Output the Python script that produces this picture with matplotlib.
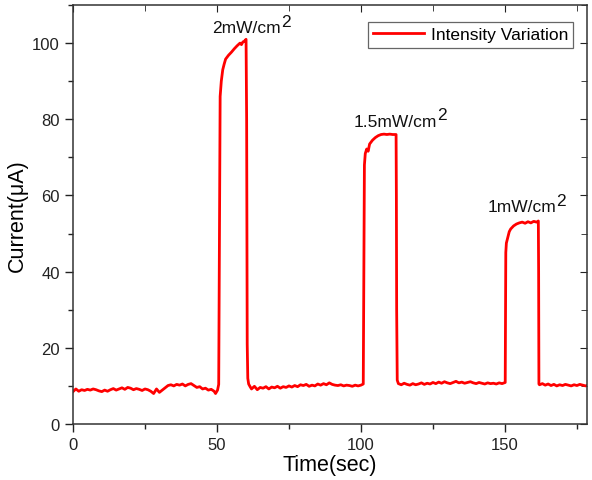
import matplotlib
matplotlib.use("Agg")
import matplotlib.pyplot as plt
from matplotlib.ticker import MultipleLocator
from matplotlib.offsetbox import TextArea, HPacker, VPacker, DrawingArea, AnnotationBbox

plt.rcParams['font.family'] = ['Liberation Sans', 'DejaVu Sans']

# values
time_sec = [
    0, 1, 2, 3, 4, 5, 6, 7, 8, 9, 10, 11, 12, 13, 14, 15, 16, 17, 18, 19,
    20, 21, 22, 23, 24, 25, 26, 27, 28, 29, 30, 31, 32, 33, 34, 35, 36, 37, 38, 39,
    40, 41, 42, 43, 44, 45, 46, 47, 48, 49, 49.5, 50.2, 50.6,
    50.8, 50.9, 51.1, 51.5, 52, 52.5, 53, 54, 55, 56, 57, 58, 58.5, 59, 59.5, 60.1,
    60.3, 60.4, 60.5, 60.7, 61, 61.5, 62, 63, 64, 65, 66, 67, 68, 69,
    70, 71, 72, 73, 74, 75, 76, 77, 78, 79, 80, 81, 82, 83, 84, 85, 86, 87, 88, 89,
    90, 91, 92, 93, 94, 95, 96, 97, 98, 99, 100, 100.8,
    101, 101.2, 101.5, 102, 102.5, 103, 104, 105, 106, 107, 108, 109, 110, 111, 112.2,
    112.3, 112.4, 112.6, 113, 114, 115, 116, 117, 118, 119,
    120, 121, 122, 123, 124, 125, 126, 127, 128, 129, 130, 131, 132, 133, 134, 135,
    136, 137, 138, 139, 140, 141, 142, 143, 144, 145, 146, 147, 148, 149, 150.1,
    150.3, 150.5, 151, 151.5, 152, 153, 154, 155, 156, 157, 158, 159, 160, 161, 161.6,
    161.7, 161.8, 162, 163, 164, 165, 166, 167, 168, 169, 170, 171, 172, 173, 174, 175,
    176, 177, 178, 179,
]
current_uA = [
    8.5, 9.2, 8.6, 9.0, 8.8, 9.1, 8.9, 9.2, 9.0, 8.7, 8.5, 8.9, 8.6, 9.0, 9.3, 8.9, 9.2, 9.5, 9.1, 9.6,
    9.4, 9.0, 9.3, 9.1, 8.8, 9.2, 9.0, 8.6, 8.0, 9.2, 8.3, 8.9, 9.5, 10.1, 10.3, 10.0, 10.4, 10.2, 10.5, 10.0,
    10.4, 10.6, 10.1, 9.6, 9.8, 9.2, 9.4, 8.9, 9.1, 8.6, 8.0, 8.9, 10.4,
    40.0, 60.0, 86.0, 90.0, 93.0, 94.5, 95.8, 96.8, 97.6, 98.5, 99.3, 100.0, 99.6, 100.3, 100.5, 101.0,
    80.0, 50.0, 21.0, 12.0, 10.5, 9.8, 9.2, 9.9, 9.0, 9.6, 9.4, 9.8, 9.2, 9.7,
    9.5, 9.9, 9.4, 9.8, 9.6, 10.0, 9.7, 10.1, 9.8, 10.3, 10.1, 10.4, 9.9, 10.2, 10.0, 10.5, 10.2, 10.6, 10.3, 10.8,
    10.4, 10.2, 10.1, 10.3, 10.0, 10.2, 10.1, 9.9, 10.2, 10.0, 10.2, 10.5,
    40.0, 68.0, 71.0, 72.2, 71.6, 73.5, 74.5, 75.2, 75.7, 76.0, 76.1, 76.0, 76.1, 76.0, 76.0,
    60.0, 30.0, 11.5, 10.6, 10.3, 10.7, 10.4, 10.2, 10.6, 10.3,
    10.5, 10.8, 10.4, 10.7, 10.5, 10.9, 10.6, 11.0, 10.7, 11.1, 10.8, 10.6, 10.9, 11.2, 10.8, 11.0,
    10.7, 10.9, 11.1, 10.8, 10.6, 10.9, 10.7, 10.5, 10.8, 10.6, 10.7, 10.5, 10.8, 10.6, 10.9,
    45.0, 47.5, 49.0, 50.5, 51.2, 52.0, 52.5, 52.8, 53.0, 52.7, 53.1, 52.8, 53.2, 53.0, 53.3,
    40.0, 10.5, 10.3, 10.6, 10.2, 10.5, 10.1, 10.4, 10.0, 10.3, 10.1, 10.4, 10.2, 10.0, 10.3, 10.1,
    10.4, 10.2, 10.0, 10.2,
]

labels = ['2mW/cm', '1.5mW/cm', '1mW/cm']
label_x = [62, 113.5, 157.5]
label_y = [102, 77.5, 55]

fig = plt.figure(figsize=(5.92, 4.81), dpi=100)
ax = fig.add_axes([73 / 592, 56 / 481, (587 - 73) / 592, (425 - 6) / 481])

ax.plot(time_sec, current_uA, color='#ff0000', lw=2.0, label='Intensity Variation')

# labels with a full-size raised "2", as in the original
for txt, x, y in zip(labels, label_x, label_y):
    props = dict(fontsize=12.5, color='#111111')
    main = TextArea(txt, textprops=props)
    sup = VPacker(children=[TextArea('2', textprops=props), DrawingArea(1, 5)],
                  pad=0, sep=0, align='center')
    box = HPacker(children=[main, sup], pad=0, sep=0, align='bottom')
    ab = AnnotationBbox(box, (x, y), frameon=False, box_alignment=(0.5, 0), pad=0)
    ax.add_artist(ab)

ax.set_xlim(0, 178.5)
ax.set_ylim(0, 110)
ax.xaxis.set_major_locator(MultipleLocator(50))
ax.xaxis.set_minor_locator(MultipleLocator(25))
ax.yaxis.set_major_locator(MultipleLocator(20))
ax.yaxis.set_minor_locator(MultipleLocator(10))

ax.tick_params(which='both', direction='out', top=False, right=False,
               labelsize=12, colors='#222222', width=1)
ax.tick_params(which='major', length=6)
ax.tick_params(which='minor', length=3.5)

# inward ticks on top and right spines
for side in ['top', 'right']:
    sec = ax.secondary_xaxis('top') if side == 'top' else ax.secondary_yaxis('right')
    axis = sec.xaxis if side == 'top' else sec.yaxis
    axis.set_major_locator(MultipleLocator(50 if side == 'top' else 20))
    axis.set_minor_locator(MultipleLocator(25 if side == 'top' else 10))
    sec.tick_params(which='both', direction='in', labelsize=0, colors='#222222')
    sec.tick_params(which='major', length=5)
    sec.tick_params(which='minor', length=4)
    axis.set_ticklabels([])
    for s in sec.spines.values():
        s.set_visible(False)

for s in ax.spines.values():
    s.set_color('#333333')
    s.set_linewidth(1.1)

ax.set_xlabel('Time(sec)', fontsize=15.5, labelpad=1)
ax.set_ylabel('Current(\u03bcA)', fontsize=15.5, labelpad=3)

leg = ax.legend(loc='upper right', fontsize=12.5, fancybox=False, framealpha=1,
                edgecolor='#666666', borderpad=0.3, handlelength=2.9,
                handletextpad=0.4, bbox_to_anchor=(0.99, 0.98))
leg.get_frame().set_linewidth(0.9)

fig.savefig('out.png', dpi=100)
